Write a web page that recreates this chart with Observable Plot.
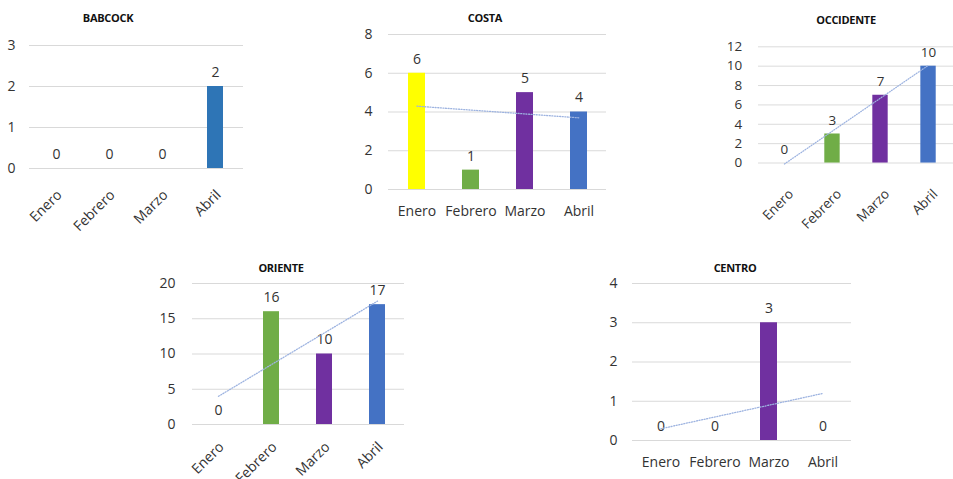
<!DOCTYPE html>
<html>
<head>
<meta charset="utf-8">
<script src="https://cdn.jsdelivr.net/npm/d3@7"></script>
<script src="https://cdn.jsdelivr.net/npm/@observablehq/plot@0.6"></script>
<style>
  html, body { margin: 0; padding: 0; background: #fff; overflow: hidden; }
  #root { position: relative; width: 953px; height: 479px; overflow: hidden; font-family: "Open Sans", "Noto Sans", sans-serif; }
  .chart { position: absolute; }
  .chart svg { overflow: visible; }
  .titulo { position: absolute; transform: translate(-50%, -50%); font-weight: bold; font-size: 11px; color: #111; white-space: nowrap; letter-spacing: -0.3px; }
</style>
</head>
<body>
<div id="root"></div>
<script>
// ---- data ----
const meses = ["Enero", "Febrero", "Marzo", "Abril"];
const titulos = ["BABCOCK", "COSTA", "OCCIDENTE", "ORIENTE", "CENTRO"];
const babcock = [0, 0, 0, 2];
const costa = [6, 1, 5, 4];
const occidente = [0, 3, 7, 10];
const oriente = [0, 16, 10, 17];
const centro = [0, 0, 3, 0];
const yMaximos = [3, 8, 12, 20, 4];
const yPasos = [1, 2, 2, 5, 1];
const tendencia = [false, true, true, true, true];

// ---- styles / layout ----
const coloresMes = ["#FFFF00", "#70AD47", "#7030A0", "#4472C4"];
const coloresBabcock = ["#2E75B6", "#2E75B6", "#2E75B6", "#2E75B6"];
const textoColor = "#333333";
const layout = [
  {left: 0,   top: 30,  width: 253, height: 198, mt: 15, mr: 10, mb: 60, ml: 29, rot: true,  tpY: 14, tpX: 24, dx: 3, colors: coloresBabcock, tx: 108, ty: 17},
  {left: 340, top: 20,  width: 276, height: 199, mt: 14, mr: 10, mb: 30, ml: 48, rot: false, tpY: 16, tpX: 17, dx: 0, colors: coloresMes,     tx: 485, ty: 17},
  {left: 710, top: 30,  width: 253, height: 198, mt: 17, mr: 0,  mb: 60, ml: 50, rot: true,  tpY: 17, tpX: 30, dx: 7, colors: coloresMes,     tx: 846, ty: 19},
  {left: 140, top: 270, width: 274, height: 214, mt: 13, mr: 10, mb: 60, ml: 52, rot: true,  tpY: 17, tpX: 20, dx: 3, colors: coloresMes,     tx: 281, ty: 267},
  {left: 590, top: 270, width: 271, height: 209, mt: 13, mr: 10, mb: 39, ml: 42, rot: false, tpY: 15, tpX: 17, dx: 0, colors: coloresMes,     tx: 735, ty: 267}
];
const series = [babcock, costa, occidente, oriente, centro];

const root = document.getElementById("root");

function regresion(vals) {
  const n = vals.length;
  const xs = vals.map((_, i) => i + 1);
  const mx = d3.mean(xs), my = d3.mean(vals);
  const b = d3.sum(xs.map((x, i) => (x - mx) * (vals[i] - my))) / d3.sum(xs.map(x => (x - mx) ** 2));
  const a = my - b * mx;
  return [{mes: meses[0], y: a + b * 1}, {mes: meses[n - 1], y: a + b * n}];
}

series.forEach((vals, k) => {
  const L = layout[k];
  const rows = meses.map((m, i) => ({mes: m, valor: vals[i], color: L.colors[i]}));
  const ticks = d3.range(0, yMaximos[k] + 0.001, yPasos[k]);
  const marks = [
    Plot.ruleY(ticks, {stroke: "#d9d9d9", strokeWidth: 1}),
    Plot.barY(rows, {x: "mes", y: "valor", fill: "color"}),
    Plot.text(rows, {x: "mes", y: "valor", text: d => String(d.valor), dy: -14, fill: textoColor, fontSize: 14}),
    Plot.axisY({ticks, tickFormat: "d", tickSize: 0, tickPadding: L.tpY, fontSize: 14, label: null, fill: textoColor}),
    L.rot
      ? Plot.axisX({tickSize: 0, tickPadding: L.tpX, tickRotate: -45, dx: L.dx, fontSize: 14, label: null, fill: textoColor})
      : Plot.axisX({tickSize: 0, tickPadding: L.tpX, fontSize: 14, label: null, fill: textoColor})
  ];
  if (tendencia[k]) {
    marks.push(Plot.line(regresion(vals), {x: "mes", y: "y", stroke: "#9DB3E0", strokeWidth: 1.3, strokeDasharray: "1,1.6"}));
  }
  const plot = Plot.plot({
    width: L.width, height: L.height,
    marginTop: L.mt, marginRight: L.mr, marginBottom: L.mb, marginLeft: L.ml,
    style: {fontFamily: "'Open Sans', 'Noto Sans', sans-serif", fontSize: "14px", background: "transparent", color: textoColor},
    x: {domain: meses, paddingInner: 0.69, paddingOuter: 0.345, label: null},
    y: {domain: [0, yMaximos[k]], label: null},
    color: {type: "identity"},
    marks
  });
  const div = document.createElement("div");
  div.className = "chart";
  div.style.left = L.left + "px";
  div.style.top = L.top + "px";
  div.appendChild(plot);
  root.appendChild(div);
  const t = document.createElement("div");
  t.className = "titulo";
  t.style.left = L.tx + "px";
  t.style.top = L.ty + "px";
  t.textContent = titulos[k];
  root.appendChild(t);
});
</script>
</body>
</html>
